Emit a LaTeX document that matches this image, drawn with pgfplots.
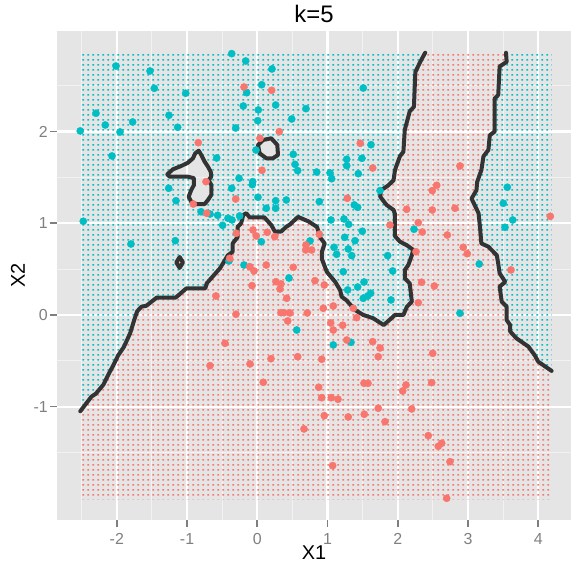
\documentclass[border=0pt]{standalone}
\usepackage{fontspec}
\setmainfont{Liberation Sans}
\usepackage{pgfplots}
\pgfplotsset{compat=1.18}
\usetikzlibrary{patterns}

\definecolor{ggblue}{HTML}{00BFC4}
\definecolor{ggred}{HTML}{F8766D}
\definecolor{ggpanel}{HTML}{E5E5E5}
\definecolor{ggminor}{HTML}{F2F2F2}
\definecolor{ggtext}{HTML}{7F7F7F}

% one grid point of the classification grid per tile
\pgfdeclarepatternformonly{griddots}{\pgfpointorigin}{\pgfpoint{4.75bp}{4.49bp}}{\pgfpoint{4.75bp}{4.49bp}}{%
  \pgfpathrectangle{\pgfpoint{1.5bp}{1.4bp}}{\pgfpoint{1.8bp}{1.8bp}}\pgfusepath{fill}}

\begin{document}
\begin{tikzpicture}
\begin{axis}[
  scale only axis, width=514bp, height=489bp,
  xmin=-2.851, xmax=4.466, ymin=-2.236, ymax=3.097,
  axis background/.style={fill=ggpanel},
  axis line style={draw=none},
  tick pos=left, tick align=outside,
  major tick length=7bp, minor tick length=0pt,
  tick style={ggtext, line width=1.6bp},
  xtick={-2,-1,0,1,2,3,4}, xticklabels={-2,-1,0,1,2,3,4},
  ytick={-1,0,1,2}, yticklabels={-1,0,1,2},
  minor xtick={-2.5,-1.5,-0.5,0.5,1.5,2.5,3.5},
  minor ytick={-1.5,-0.5,0.5,1.5,2.5},
  grid=both,
  major grid style={white, line width=2.2bp},
  minor grid style={ggminor, line width=1.1bp},
  tick label style={font=\fontsize{16}{16}\selectfont, text=ggtext, inner sep=0pt},
  xticklabel style={anchor=north, yshift=-6bp},
  yticklabel style={anchor=east, xshift=-2bp},
  xlabel={X1}, ylabel={X2}, title={k=5},
  label style={font=\fontsize{20}{20}\selectfont, inner sep=0pt},
  xlabel style={at={(axis description cs:0.5,0)}, anchor=base, yshift=-39bp},
  ylabel style={at={(axis description cs:-0.0623,0.5)}, anchor=base},
  title style={at={(axis description cs:0.5,1)}, anchor=base, yshift=3bp,
    font=\fontsize{24}{24}\selectfont, inner sep=0pt},
]

% ---- classification grid: red region
\addplot[draw=none, pattern=griddots, pattern color=ggred, forget plot] coordinates {
(-2.52,-1.05) (-2.36,-0.89) (-2.30,-0.86) (-2.19,-0.76) (-2.12,-0.65) (-2.05,-0.55)
(-1.98,-0.44) (-1.90,-0.35) (-1.81,-0.20) (-1.75,-0.05) (-1.71,0.04) (-1.65,0.09)
(-1.58,0.10) (-1.43,0.19) (-1.16,0.19) (-1.01,0.29) (-0.74,0.29) (-0.72,0.345)
(-0.53,0.51) (-0.49,0.56) (-0.42,0.65) (-0.35,0.69) (-0.35,0.78) (-0.28,0.85)
(-0.28,0.96) (-0.23,1.00) (-0.20,1.09) (-0.157,1.11) (-0.11,1.065) (0.10,1.065)
(0.20,0.98) (0.25,0.91) (0.34,0.91) (0.41,0.96) (0.47,0.99) (0.58,1.07)
(0.73,1.02) (0.85,0.96) (0.90,0.84) (0.96,0.78) (0.92,0.69) (0.92,0.61)
(0.99,0.47) (1.11,0.36) (1.18,0.27) (1.20,0.20) (1.27,0.16) (1.39,0.055)
(1.51,0.0) (1.65,-0.036) (1.80,-0.11) (1.96,0.0) (2.08,0.0) (2.13,0.09)
(2.20,0.145) (2.17,0.345) (2.10,0.40) (2.10,0.49) (2.15,0.545) (2.20,0.65)
(2.22,0.71) (2.13,0.76) (2.03,0.80) (1.96,0.86) (1.96,1.10) (1.94,1.145)
(1.84,1.20) (1.75,1.29) (1.76,1.36) (1.86,1.41) (1.94,1.47) (1.96,1.58)
(2.03,1.73) (2.08,1.78) (2.10,2.02) (2.17,2.22) (2.23,2.27) (2.25,2.65)
(2.32,2.76) (2.39,2.86)
(3.54,2.86) (3.55,2.76) (3.45,2.71) (3.43,2.40) (3.38,2.36) (3.38,2.00)
(3.31,1.96) (3.29,1.80) (3.22,1.73) (3.19,1.58) (3.13,1.45) (3.12,1.36)
(3.05,1.27) (3.15,1.11) (3.17,0.96) (3.19,0.78) (3.29,0.745) (3.41,0.65)
(3.43,0.56) (3.45,0.455) (3.53,0.36) (3.45,0.31) (3.48,0.145) (3.55,0.09)
(3.55,-0.055) (3.60,-0.11) (3.60,-0.18) (3.69,-0.255) (3.86,-0.345) (3.95,-0.44)
(4.00,-0.51) (4.19,-0.61)
(4.19,-2.01) (-2.52,-2.01)
} --cycle;

% ---- classification grid: blue region, upper left (islands cut out)
\addplot[draw=none, pattern=griddots, pattern color=ggblue, even odd rule, forget plot] coordinates {
(-2.52,2.86)
(-2.52,-1.05) (-2.36,-0.89) (-2.30,-0.86) (-2.19,-0.76) (-2.12,-0.65) (-2.05,-0.55)
(-1.98,-0.44) (-1.90,-0.35) (-1.81,-0.20) (-1.75,-0.05) (-1.71,0.04) (-1.65,0.09)
(-1.58,0.10) (-1.43,0.19) (-1.16,0.19) (-1.01,0.29) (-0.74,0.29) (-0.72,0.345)
(-0.53,0.51) (-0.49,0.56) (-0.42,0.65) (-0.35,0.69) (-0.35,0.78) (-0.28,0.85)
(-0.28,0.96) (-0.23,1.00) (-0.20,1.09) (-0.157,1.11) (-0.11,1.065) (0.10,1.065)
(0.20,0.98) (0.25,0.91) (0.34,0.91) (0.41,0.96) (0.47,0.99) (0.58,1.07)
(0.73,1.02) (0.85,0.96) (0.90,0.84) (0.96,0.78) (0.92,0.69) (0.92,0.61)
(0.99,0.47) (1.11,0.36) (1.18,0.27) (1.20,0.20) (1.27,0.16) (1.39,0.055)
(1.51,0.0) (1.65,-0.036) (1.80,-0.11) (1.96,0.0) (2.08,0.0) (2.13,0.09)
(2.20,0.145) (2.17,0.345) (2.10,0.40) (2.10,0.49) (2.15,0.545) (2.20,0.65)
(2.22,0.71) (2.13,0.76) (2.03,0.80) (1.96,0.86) (1.96,1.10) (1.94,1.145)
(1.84,1.20) (1.75,1.29) (1.76,1.36) (1.86,1.41) (1.94,1.47) (1.96,1.58)
(2.03,1.73) (2.08,1.78) (2.10,2.02) (2.17,2.22) (2.23,2.27) (2.25,2.65)
(2.32,2.76) (2.39,2.86)
(-2.52,2.86)
(-0.834,1.792) (-0.797,1.745) (-0.749,1.672) (-0.702,1.617) (-0.663,1.563) (-0.655,1.508)
(-0.692,1.472) (-0.655,1.418) (-0.655,1.309) (-0.702,1.254) (-0.749,1.210) (-0.868,1.210)
(-0.940,1.236) (-0.977,1.290) (-0.940,1.363) (-0.901,1.418) (-0.901,1.491) (-0.986,1.508)
(-1.247,1.508) (-1.281,1.534) (-1.200,1.589) (-1.082,1.625) (-0.986,1.661) (-0.915,1.709)
(-0.883,1.763) (-0.834,1.792)
(-2.52,2.86)
(0.010,1.854) (0.081,1.908) (0.199,1.927) (0.285,1.854) (0.295,1.745) (0.223,1.709)
(0.128,1.709) (0.034,1.763) (0.010,1.854)
(-2.52,2.86)
(-1.105,0.632) (-1.058,0.573) (-1.105,0.513) (-1.153,0.573) (-1.105,0.632)
(-2.52,2.86)
} --cycle;

% ---- classification grid: blue region, right
\addplot[draw=none, pattern=griddots, pattern color=ggblue, forget plot] coordinates {
(3.54,2.86) (3.55,2.76) (3.45,2.71) (3.43,2.40) (3.38,2.36) (3.38,2.00)
(3.31,1.96) (3.29,1.80) (3.22,1.73) (3.19,1.58) (3.13,1.45) (3.12,1.36)
(3.05,1.27) (3.15,1.11) (3.17,0.96) (3.19,0.78) (3.29,0.745) (3.41,0.65)
(3.43,0.56) (3.45,0.455) (3.53,0.36) (3.45,0.31) (3.48,0.145) (3.55,0.09)
(3.55,-0.055) (3.60,-0.11) (3.60,-0.18) (3.69,-0.255) (3.86,-0.345) (3.95,-0.44)
(4.00,-0.51) (4.19,-0.61) (4.19,2.86)
} --cycle;

% ---- decision boundary
\pgfplotsset{boundary/.style={draw=black!80, line width=4bp, line join=round, line cap=round, forget plot}}
\addplot[boundary] coordinates {
(-2.52,-1.05) (-2.36,-0.89) (-2.30,-0.86) (-2.19,-0.76) (-2.12,-0.65) (-2.05,-0.55)
(-1.98,-0.44) (-1.90,-0.35) (-1.81,-0.20) (-1.75,-0.05) (-1.71,0.04) (-1.65,0.09)
(-1.58,0.10) (-1.43,0.19) (-1.16,0.19) (-1.01,0.29) (-0.74,0.29) (-0.72,0.345)
(-0.53,0.51) (-0.49,0.56) (-0.42,0.65) (-0.35,0.69) (-0.35,0.78) (-0.28,0.85)
(-0.28,0.96) (-0.23,1.00) (-0.20,1.09) (-0.157,1.11) (-0.11,1.065) (0.10,1.065)
(0.20,0.98) (0.25,0.91) (0.34,0.91) (0.41,0.96) (0.47,0.99) (0.58,1.07)
(0.73,1.02) (0.85,0.96) (0.90,0.84) (0.96,0.78) (0.92,0.69) (0.92,0.61)
(0.99,0.47) (1.11,0.36) (1.18,0.27) (1.20,0.20) (1.27,0.16) (1.39,0.055)
(1.51,0.0) (1.65,-0.036) (1.80,-0.11) (1.96,0.0) (2.08,0.0) (2.13,0.09)
(2.20,0.145) (2.17,0.345) (2.10,0.40) (2.10,0.49) (2.15,0.545) (2.20,0.65)
(2.22,0.71) (2.13,0.76) (2.03,0.80) (1.96,0.86) (1.96,1.10) (1.94,1.145)
(1.84,1.20) (1.75,1.29) (1.76,1.36) (1.86,1.41) (1.94,1.47) (1.96,1.58)
(2.03,1.73) (2.08,1.78) (2.10,2.02) (2.17,2.22) (2.23,2.27) (2.25,2.65)
(2.32,2.76) (2.39,2.86)
};
\addplot[boundary] coordinates {
(3.54,2.86) (3.55,2.76) (3.45,2.71) (3.43,2.40) (3.38,2.36) (3.38,2.00)
(3.31,1.96) (3.29,1.80) (3.22,1.73) (3.19,1.58) (3.13,1.45) (3.12,1.36)
(3.05,1.27) (3.15,1.11) (3.17,0.96) (3.19,0.78) (3.29,0.745) (3.41,0.65)
(3.43,0.56) (3.45,0.455) (3.53,0.36) (3.45,0.31) (3.48,0.145) (3.55,0.09)
(3.55,-0.055) (3.60,-0.11) (3.60,-0.18) (3.69,-0.255) (3.86,-0.345) (3.95,-0.44)
(4.00,-0.51) (4.19,-0.61)
};
\addplot[boundary] coordinates {
(-0.834,1.792) (-0.797,1.745) (-0.749,1.672) (-0.702,1.617) (-0.663,1.563) (-0.655,1.508)
(-0.692,1.472) (-0.655,1.418) (-0.655,1.309) (-0.702,1.254) (-0.749,1.210) (-0.868,1.210)
(-0.940,1.236) (-0.977,1.290) (-0.940,1.363) (-0.901,1.418) (-0.901,1.491) (-0.986,1.508)
(-1.247,1.508) (-1.281,1.534) (-1.200,1.589) (-1.082,1.625) (-0.986,1.661) (-0.915,1.709)
(-0.883,1.763)
} --cycle;
\addplot[boundary] coordinates {
(0.010,1.854) (0.081,1.908) (0.199,1.927) (0.285,1.854) (0.295,1.745) (0.223,1.709)
(0.128,1.709) (0.034,1.763)
} --cycle;
\addplot[boundary, fill=ggred!60] coordinates {
(-1.105,0.632) (-1.058,0.573) (-1.105,0.513) (-1.153,0.573)
} --cycle;

% ---- training points
\addplot[only marks, mark=*, mark size=3.6bp, ggblue, forget plot] coordinates {
(-2.011,2.715) (-1.527,2.661) (-1.466,2.472) (-1.019,2.418) (-2.296,2.200) (-1.257,2.178)
(-2.164,2.072) (-1.774,2.105) (-1.133,2.047) (-2.520,2.007) (-1.954,1.996) (-2.068,1.734)
(-0.578,1.712) (-1.261,1.382) (-0.364,2.850) (-0.165,2.770) (0.209,2.683) (0.063,2.511)
(-0.151,2.424) (1.509,2.475) (-0.199,2.279) (0.262,2.290) (0.693,2.250) (0.014,2.236)
(0.006,2.119) (0.490,2.137) (-0.307,2.039) (1.619,1.857) (-0.019,1.799) (0.512,1.752)
(1.273,1.698) (1.490,1.709) (0.537,1.643) (1.273,1.628) (0.575,1.574) (0.846,1.559)
(1.035,1.549) (1.438,1.541) (1.059,1.486) (-0.260,1.491) (-0.065,1.454) (-0.071,1.421)
(-0.364,1.382) (1.747,1.356) (3.559,1.393) (-2.477,1.022) (-1.798,0.774) (-1.167,0.810)
(-1.157,1.246) (-0.801,1.126) (-0.673,1.101) (-0.564,1.087) (-0.493,0.978) (-0.417,1.055)
(-0.360,1.036) (-0.251,1.080) (0.010,1.284) (0.128,1.164) (0.262,1.246) (0.262,1.164)
(0.413,1.254) (0.057,0.799) (-0.403,0.589) (-0.189,0.545) (0.883,1.236) (1.381,1.200)
(1.429,1.174) (1.049,1.036) (1.234,1.047) (1.301,0.989) (1.495,0.913) (1.244,0.847)
(1.391,0.810) (0.750,0.807) (1.092,0.738) (1.295,0.720) (1.130,0.662) (1.344,0.647)
(1.856,0.647) (0.451,0.403) (1.224,0.472) (1.519,0.360) (1.429,0.305) (1.287,0.273)
(1.614,0.237) (1.572,0.207) (1.509,0.182) (1.927,0.480) (1.903,0.164) (0.561,-0.164)
(1.082,-0.327) (1.334,-0.298) (3.502,1.218) (3.636,1.036) (3.526,0.956) (2.231,0.935)
(3.160,0.556) (2.885,0.019)
};
\addplot[only marks, mark=*, mark size=3.6bp, ggred, forget plot] coordinates {
(-0.840,1.879) (-0.730,1.454) (-0.189,2.486) (0.205,2.450) (0.313,1.999) (0.038,1.927)
(1.466,1.872) (0.067,1.578) (1.643,1.603) (2.885,1.625) (2.554,1.414) (2.491,1.356)
(-0.911,1.210) (-0.720,1.109) (-0.588,0.207) (-0.460,-0.309) (-0.307,1.265) (-0.299,0.891)
(-0.061,0.927) (-0.014,0.862) (0.142,0.902) (0.248,0.854) (-0.108,0.527) (-0.393,0.618)
(0.128,0.545) (1.281,1.273) (1.889,0.981) (0.883,0.880) (0.693,0.763) (0.689,0.709)
(0.774,0.709) (-0.047,0.480) (0.512,0.520) (0.266,0.363) (0.337,0.338) (0.323,0.284)
(-0.075,0.320) (0.821,0.374) (0.954,0.327) (0.419,0.182) (0.940,0.073) (1.082,0.098)
(-0.303,0.008) (0.337,0.025) (0.380,0.025) (0.465,0.022) (0.712,0.022) (0.433,-0.065)
(1.045,-0.087) (1.082,-0.164) (1.216,-0.112) (1.273,-0.273) (1.643,-0.291) (1.747,-0.360)
(1.722,-0.455) (0.195,-0.477) (0.575,-0.455) (1.367,0.073) (1.415,-0.029) (2.127,1.153)
(2.491,1.145) (2.814,1.164) (2.292,1.007) (2.349,0.905) (2.705,0.872) (2.932,0.738)
(2.989,0.668) (2.259,0.690) (3.611,0.491) (2.340,0.357) (2.520,0.316) (2.292,0.134)
(2.497,-0.418) (4.171,1.076) (-0.673,-0.553) (-0.104,-0.534) (0.917,-0.483) (0.085,-0.734)
(0.874,-0.788) (0.917,-0.902) (1.053,-0.902) (1.149,-0.919) (1.519,-0.745) (1.576,-0.745)
(0.954,-1.098) (1.295,-1.112) (1.523,-1.083) (1.722,-1.017) (1.818,-1.164) (0.665,-1.243)
(1.073,-1.643) (2.117,-0.763) (2.070,-0.829) (2.483,-0.738) (2.198,-1.025) (2.434,-1.316)
(2.625,-1.399) (2.577,-1.432) (2.743,-1.600) (2.696,-1.999)
};
\end{axis}
\pgfresetboundingbox
\useasboundingbox ([xshift=-57bp,yshift=-49bp]current axis.south west)
  rectangle ([xshift=1bp,yshift=31bp]current axis.north east);
\end{tikzpicture}
\end{document}
